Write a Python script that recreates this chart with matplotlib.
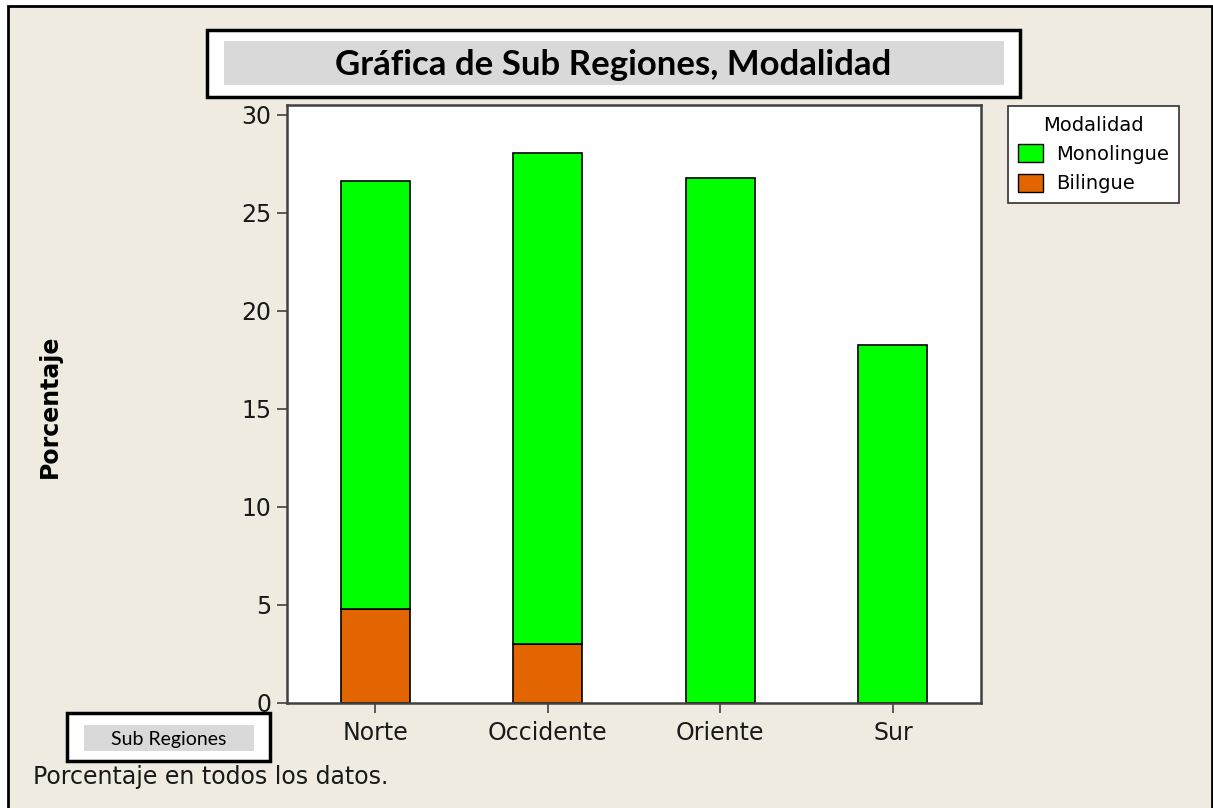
import matplotlib
matplotlib.use("Agg")
from matplotlib import pyplot as plt
from matplotlib.patches import Rectangle, Patch

# datos (porcentaje)
regiones = ["Norte", "Occidente", "Oriente", "Sur"]
monolingue = [21.83, 25.05, 26.79, 18.27]
bilingue = [4.80, 3.01, 0.0, 0.0]
yticks = [0, 5, 10, 15, 20, 25, 30]

W, H = 1213, 808
FONDO = "#efebe0"
VERDE = "#00ff00"
NARANJA = "#e36500"
GRIS = "#d9d9d9"


def caja(fig, x0, y0, x1, y1, **kw):
    # rectangulo en pixeles (origen arriba a la izquierda)
    r = Rectangle((x0 / W, 1 - y1 / H), (x1 - x0) / W, (y1 - y0) / H,
                  transform=fig.transFigure, **kw)
    fig.patches.append(r)
    return r


fig = plt.figure(figsize=(W / 100, H / 100), dpi=100, facecolor="white")

# marco exterior (debajo de todo)
caja(fig, 7.5, 6.5, 1211.5, 830, facecolor=FONDO, edgecolor="black",
     linewidth=2, zorder=-10)

ax = fig.add_axes([287 / W, 1 - 703 / H, (981 - 287) / W, (703 - 105) / H])
ax.set_zorder(2)
ax.set_facecolor("white")

x = range(len(regiones))
ax.bar(x, bilingue, width=0.4, color=NARANJA, edgecolor="black", linewidth=1.2,
       label="Bilingue")
ax.bar(x, monolingue, width=0.4, bottom=bilingue, color=VERDE, edgecolor="black",
       linewidth=1.2, label="Monolingue")

ax.set_xlim(-0.51, 3.51)
ax.set_ylim(0, 30.5)
ax.set_yticks(yticks)
ax.set_xticks(list(x))
ax.set_xticklabels(regiones)
ax.tick_params(axis="both", direction="out", length=7, width=1.2, color="#404040",
               labelsize=17, labelcolor="#1a1a1a", pad=4)
ax.tick_params(axis="x", pad=6)
for s in ax.spines.values():
    s.set_color("#404040")
    s.set_linewidth(1.8)

ax.set_ylabel("Porcentaje", fontsize=17, fontweight="bold", labelpad=0)
ax.yaxis.set_label_coords(62 / W, 1 - 406 / H, transform=fig.transFigure)

handles = [Patch(facecolor=VERDE, edgecolor="black", label="Monolingue"),
           Patch(facecolor=NARANJA, edgecolor="black", label="Bilingue")]
leg = fig.legend(handles=handles, title="Modalidad", loc="upper left",
                 bbox_to_anchor=(1008 / W, 1 - 106 / H), fontsize=14,
                 title_fontsize=14, frameon=True, fancybox=False,
                 handlelength=1.3, handleheight=1.05, handletextpad=0.7,
                 labelspacing=0.5, borderpad=0.5, borderaxespad=0)
leg.set_zorder(5)
leg.get_frame().set_edgecolor("#303030")
leg.get_frame().set_linewidth(1.2)
leg.get_frame().set_facecolor("white")
leg.get_frame().set_alpha(1)

# caja del titulo
caja(fig, 207, 30, 1020, 97, facecolor="white", edgecolor="black", linewidth=2.5)
caja(fig, 224, 41, 1004, 85, facecolor=GRIS, edgecolor="none")
fig.text(613.5 / W, 1 - 65 / H, "Gráfica de Sub Regiones, Modalidad",
         ha="center", va="center", fontsize=25, fontweight="bold", family="Lato")

# caja del eje x
caja(fig, 67, 713, 270, 761, facecolor="white", edgecolor="black", linewidth=2.5)
caja(fig, 84, 725, 254, 751, facecolor=GRIS, edgecolor="none")
fig.text(169 / W, 1 - 739 / H, "Sub Regiones", ha="center", va="center",
         fontsize=14, family="Lato")

fig.text(33 / W, 1 - 777 / H, "Porcentaje en todos los datos.", ha="left",
         va="center", fontsize=17, color="#1a1a1a")

fig.savefig("out.png", dpi=100, facecolor=fig.get_facecolor())
